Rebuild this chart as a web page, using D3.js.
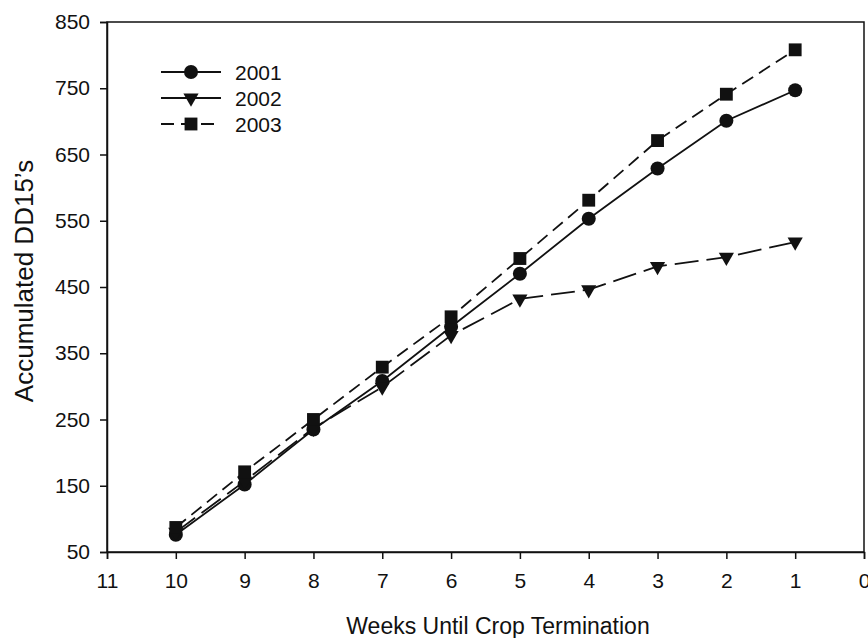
<!DOCTYPE html>
<html>
<head>
<meta charset="utf-8">
<script src="https://cdn.jsdelivr.net/npm/d3@7"></script>
<style>
  body { margin: 0; background: #fff; }
  svg text { font-family: Arial, "Liberation Sans", sans-serif; fill: #111; }
</style>
</head>
<body>
<svg id="chart" width="868" height="638"></svg>
<script>
const weeks = [10, 9, 8, 7, 6, 5, 4, 3, 2, 1];
const dd2001 = [76, 152, 235, 308, 390, 470, 553, 629, 701, 747];
const dd2002 = [80, 157, 237, 299, 377, 432, 446, 481, 495, 518];
const dd2003 = [87, 171, 250, 329, 405, 493, 581, 671, 741, 808];
const xTicks = [11, 10, 9, 8, 7, 6, 5, 4, 3, 2, 1, 0];
const yTicks = [50, 150, 250, 350, 450, 550, 650, 750, 850];

const series = [
  { name: '2001', values: dd2001, symbol: d3.symbolCircle, size: 155, dash: null, legendDash: null },
  { name: '2002', values: dd2002, symbol: d3.symbolTriangle, size: 100, dash: '24,8', legendDash: null },
  { name: '2003', values: dd2003, symbol: d3.symbolSquare, size: 165, dash: '13,7', legendDash: '13,7' },
];

const svg = d3.select('#chart');
const plotLeft = 107, plotRight = 864, plotTop = 22, plotBottom = 552;

const x = d3.scaleLinear().domain([11, 0]).range([plotLeft, plotRight]);
const y = d3.scaleLinear().domain([50, 850]).range([plotBottom, plotTop]);

// frame
svg.append('rect')
  .attr('x', plotLeft).attr('y', plotTop)
  .attr('width', plotRight - plotLeft).attr('height', plotBottom - plotTop)
  .attr('fill', 'none').attr('stroke', '#111').attr('stroke-width', 1.5);

const xAxis = svg.append('g')
  .attr('transform', `translate(0,${plotBottom})`)
  .call(d3.axisBottom(x).tickValues(xTicks).tickFormat(d3.format('d')).tickSize(7).tickPadding(14));

const yAxis = svg.append('g')
  .attr('transform', `translate(${plotLeft},0)`)
  .call(d3.axisLeft(y).tickValues(yTicks).tickFormat(d3.format('d')).tickSize(7).tickPadding(10));

[xAxis, yAxis].forEach((g) => {
  g.select('.domain').attr('stroke', '#111').attr('stroke-width', 1.5);
  g.selectAll('.tick line').attr('stroke', '#111').attr('stroke-width', 1.5);
  g.selectAll('.tick text').attr('font-size', 21).attr('fill', '#111');
});

const line = d3.line()
  .x((d) => x(d.week))
  .y((d) => y(d.value));

const markerTransform = (s, px, py) =>
  `translate(${px},${py})${s.symbol === d3.symbolTriangle ? ' rotate(180)' : ''}`;

series.forEach((s) => {
  const pts = weeks.map((w, i) => ({ week: w, value: s.values[i] }));
  svg.append('path')
    .datum(pts)
    .attr('d', line)
    .attr('fill', 'none')
    .attr('stroke', '#111')
    .attr('stroke-width', 1.8)
    .attr('stroke-dasharray', s.dash);

  const sym = d3.symbol().type(s.symbol).size(s.size);
  svg.append('g')
    .selectAll('path')
    .data(pts)
    .join('path')
    .attr('d', sym)
    .attr('transform', (d) => markerTransform(s, x(d.week), y(d.value)))
    .attr('fill', '#111');
});

// legend
const legend = svg.append('g');
series.forEach((s, i) => {
  const ly = 72 + i * 26;
  legend.append('line')
    .attr('x1', 161).attr('x2', 221).attr('y1', ly).attr('y2', ly)
    .attr('stroke', '#111').attr('stroke-width', 1.8)
    .attr('stroke-dasharray', s.legendDash);
  legend.append('path')
    .attr('d', d3.symbol().type(s.symbol).size(s.size))
    .attr('transform', markerTransform(s, 191, ly))
    .attr('fill', '#111');
  legend.append('text')
    .attr('x', 235).attr('y', ly + 7.5)
    .attr('font-size', 21)
    .text(s.name);
});

svg.append('text')
  .attr('x', 498).attr('y', 634)
  .attr('text-anchor', 'middle')
  .attr('font-size', 23)
  .text('Weeks Until Crop Termination');

svg.append('text')
  .attr('transform', 'translate(33,281) rotate(-90)')
  .attr('text-anchor', 'middle')
  .attr('font-size', 26)
  .text('Accumulated DD15\u2019s');
</script>
</body>
</html>
